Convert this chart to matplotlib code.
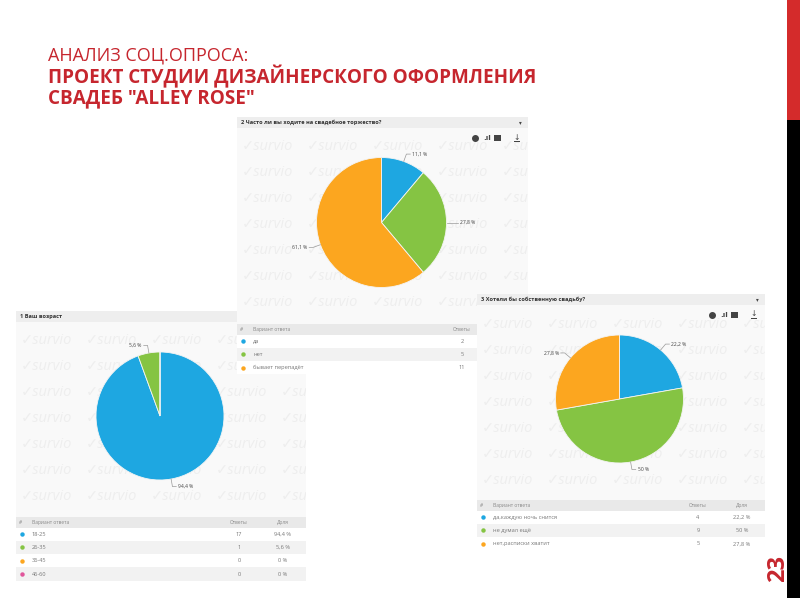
import numpy as np
import matplotlib
matplotlib.use('Agg')
import matplotlib.pyplot as plt
from matplotlib.patches import Rectangle

plt.rcParams['font.family'] = ['Open Sans', 'DejaVu Sans']

# survey data
q1_title = '1 Ваш возраст'
q1_labels = ['18-25', '26-35', '36-45', '46-60']
q1_counts = [17, 1, 0, 0]
q1_pct = ['94,4 %', '5,6 %', '0 %', '0 %']

q2_title = '2 Часто ли вы ходите на свадебное торжество?'
q2_labels = ['да', 'нет', 'бывает перепадёт']
q2_counts = [2, 5, 11]
q2_pct = ['11,1 %', '27,8 %', '61,1 %']

q3_title = '3 Хотели бы собственную свадьбу?'
q3_labels = ['да,каждую ночь снится', 'не думал ещё', 'нет,расписки хватит']
q3_counts = [4, 9, 5]
q3_pct = ['22,2 %', '50 %', '27,8 %']

colors = ['#1ea7e1', '#85c443', '#fca61f', '#e0569b']
red = '#c6262e'

fig = plt.figure(figsize=(8, 6), dpi=100)
fig.patch.set_facecolor('white')

# full page axes in pixels, y down
page = fig.add_axes([0, 0, 1, 1])
page.set_xlim(0, 800)
page.set_ylim(600, 0)
page.axis('off')


def box(x, y, w, h, color, z):
    page.add_patch(Rectangle((x, y), w, h, facecolor=color, edgecolor='none', zorder=z))


def panel(x0, x1, y0, head_w, title, labels, counts, pct, cx, cy, r, z, table_y,
          ans_x, pct_x=None, icon_x=None, row_h=13.3):
    # background + watermark
    box(x0, y0 + 11, x1 - x0, table_y - y0 - 11, '#f9f9f9', z)
    clip = Rectangle((x0, y0 + 11), x1 - x0, table_y - y0 - 11, transform=page.transData)
    n_rows = int((table_y - y0 - 30) // 26) + 1
    for j in range(n_rows):
        for i in range(5):
            t = page.text(x0 + 5 + i * 65, y0 + 30 + j * 26, '✓survio', fontsize=10.5,
                          style='italic', color='#eeeeee', va='center', zorder=z + 0.1)
            t.set_clip_on(True)
            t.set_clip_path(clip)
    # header
    box(x0, y0, head_w, 11, '#eeeeee', z + 0.2)
    page.text(x0 + 4, y0 + 5.5, title, fontsize=4.05, color='#333333', weight='bold',
              va='center', zorder=z + 0.3)
    if icon_x is not None:
        iy = y0 + 21
        page.plot([icon_x], [iy], 'o', ms=4, color='#444444', zorder=z + 0.3)
        page.text(icon_x + 12, iy, '.ıl', fontsize=5, color='#444444', ha='center',
                  va='center', weight='bold', zorder=z + 0.3, family=['DejaVu Sans'])
        box(icon_x + 19, iy - 3, 7, 6, '#444444', z + 0.3)
        page.text(icon_x + 42, iy - 1, '↓', fontsize=5.5, color='#444444', ha='center',
                  va='center', zorder=z + 0.3, family=['DejaVu Sans'])
        box(icon_x + 39, iy + 3, 6, 1, '#444444', z + 0.3)
        page.text(x1 - 8, y0 + 5.5, '▾', fontsize=4, color='#444444', ha='center',
                  va='center', zorder=z + 0.3, family=['DejaVu Sans'])

    # table
    tw = x1 - x0 if pct_x else 240
    box(x0, table_y, tw, 10.5, '#e9e9e9', z + 0.2)
    page.text(x0 + 3, table_y + 5.2, '#', fontsize=3.5, color='#888888', va='center', zorder=z + 0.3)
    page.text(x0 + 16, table_y + 5.2, 'Вариант ответа', fontsize=3.5, color='#888888',
              va='center', zorder=z + 0.3)
    page.text(ans_x, table_y + 5.2, 'Ответы', fontsize=3.5, color='#888888', ha='center',
              va='center', zorder=z + 0.3)
    if pct_x:
        page.text(pct_x, table_y + 5.2, 'Доля', fontsize=3.5, color='#888888', ha='center',
                  va='center', zorder=z + 0.3)
    for k, lab in enumerate(labels):
        ry = table_y + 10.5 + k * row_h
        box(x0, ry, tw, row_h, '#ffffff' if k % 2 == 0 else '#f2f2f2', z + 0.2)
        page.plot([x0 + 6], [ry + row_h / 2], 'o', ms=3.2, color=colors[k], mec='none', zorder=z + 0.3)
        page.text(x0 + 16, ry + row_h / 2, lab, fontsize=4.1, color='#777777', va='center', zorder=z + 0.3)
        page.text(ans_x, ry + row_h / 2, str(counts[k]), fontsize=4.1, color='#777777',
                  ha='center', va='center', zorder=z + 0.3)
        if pct_x:
            page.text(pct_x, ry + row_h / 2, pct[k], fontsize=4.1, color='#777777',
                      ha='center', va='center', zorder=z + 0.3)

    # pie in its own square axes
    ax = fig.add_axes([(cx - r - 40) / 800, 1 - (cy + r + 40) / 600, (2 * r + 80) / 800, (2 * r + 80) / 600])
    ax.set_zorder(z + 0.5)
    ax.patch.set_alpha(0)
    lim = (r + 40) / r
    wedges, _ = ax.pie(counts, colors=colors, startangle=90, counterclock=False, radius=1,
                       wedgeprops=dict(edgecolor='#f4f4f4', linewidth=0.6))
    ax.set_xlim(-lim, lim)
    ax.set_ylim(-lim, lim)
    ax.set_aspect('equal')

    # small leader lines, like the highcharts data labels
    for w, c, p in zip(wedges, counts, pct):
        if c == 0:
            continue
        a = np.deg2rad((w.theta1 + w.theta2) / 2)
        dx, dy = np.cos(a), np.sin(a)
        side = 1 if dx >= 0 else -1
        ex, ey = 1.12 * dx, 1.12 * dy
        ax.plot([dx, ex, ex + side * 0.06], [dy, ey, ey], color='#999999', lw=0.5, clip_on=False)
        ax.text(ex + side * 0.09, ey, p, fontsize=3.6, color='#444444', va='center',
                ha='left' if side > 0 else 'right', clip_on=False)


panel(16, 306, 311, 221, q1_title, q1_labels, q1_counts, q1_pct, 160, 416, 64, 2,
      table_y=517, ans_x=239, pct_x=283)
panel(237, 528, 117, 291, q2_title, q2_labels, q2_counts, q2_pct, 381.5, 222.5, 65, 3,
      table_y=324, ans_x=462, icon_x=475)
panel(477, 765, 294, 288, q3_title, q3_labels, q3_counts, q3_pct, 619.5, 399, 64, 4,
      table_y=500, ans_x=698, pct_x=742, icon_x=712)

# slide title
page.text(48, 56, 'АНАЛИЗ СОЦ.ОПРОСА:', fontsize=13, color=red, va='center', zorder=10)
page.text(48, 77, 'ПРОЕКТ СТУДИИ ДИЗАЙНЕРСКОГО ОФОРМЛЕНИЯ', fontsize=13.6, color=red,
          weight='bold', va='center', zorder=10)
page.text(48, 98, 'СВАДЕБ "ALLEY ROSE"', fontsize=13.6, color=red, weight='bold', va='center', zorder=10)

# right side strip and page number
box(787, 0, 13, 120, '#d42b2b', 10)
box(787, 120, 13, 478, '#000000', 10)
page.text(778, 569, '23', fontsize=17, color=red, weight='bold', rotation=90, ha='center',
          va='center', zorder=10)

fig.savefig('out.png', dpi=100)
